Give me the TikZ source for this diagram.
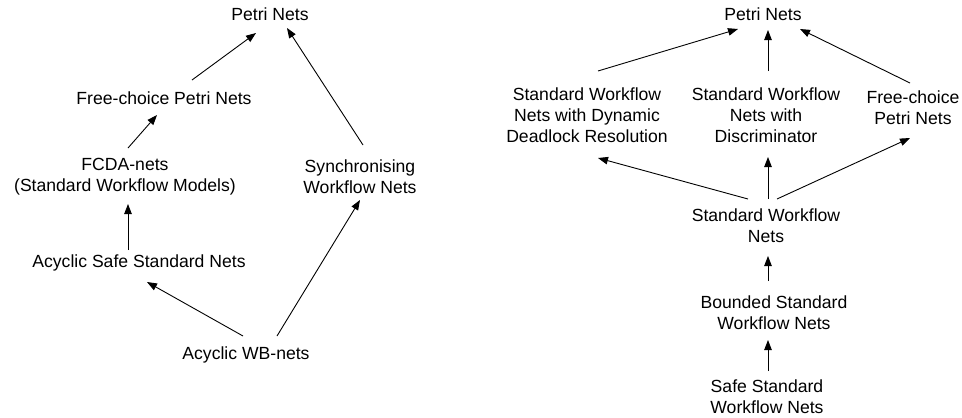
\documentclass[tikz,border=0pt]{standalone}
\usepackage{fontspec}
\setmainfont{Liberation Sans}
\usetikzlibrary{arrows.meta,calc}
\begin{document}
\begin{tikzpicture}[x=1pt,y=-1pt,
  lbl/.style={inner sep=0pt,align=center,font=\fontsize{17.6}{21}\selectfont},
  arr/.style={line width=0.9pt,-{Triangle[length=10pt,width=7.5pt]}}]
\useasboundingbox (0,0) rectangle (962,418);
% left diagram
\node[lbl] (pn1) at (270,14) {Petri Nets};
\node[lbl] (fcp) at (164,98) {Free-choice Petri Nets};
\node[lbl] (fcda) at (125,177) {FCDA-nets\\(Standard Workflow Models)};
\node[lbl] (sync) at (360,177) {Synchronising\\Workflow Nets};
\node[lbl] (assn) at (139,263) {Acyclic Safe Standard Nets};
\node[lbl] (awb) at (246,355) {Acyclic WB-nets};
\draw[arr] ($(fcp)+(28,-18)$) -- ($(pn1)+(-14,19)$);
\draw[arr] ($(fcda)+(3,-29)$) -- ($(fcp)+(-7,17)$);
\draw[arr] ($(assn)+(-11,-13)$) -- ($(fcda)+(3,27)$);
\draw[arr] ($(sync)+(3,-32)$) -- ($(pn1)+(17,14)$);
\draw[arr] ($(awb)+(-3,-19)$) -- ($(assn)+(8,19)$);
\draw[arr] ($(awb)+(31,-19)$) -- ($(sync)+(0,23)$);
% right diagram
\node[lbl] (pn2) at (763,14) {Petri Nets};
\node[lbl] (dyn) at (587,115) {Standard Workflow\\Nets with Dynamic\\Deadlock Resolution};
\node[lbl] (disc) at (766,115) {Standard Workflow\\Nets with\\Discriminator};
\node[lbl] (fc2) at (913,108) {Free-choice\\Petri Nets};
\node[lbl] (swn) at (766,226) {Standard Workflow\\Nets};
\node[lbl] (bswn) at (774,313) {Bounded Standard\\Workflow Nets};
\node[lbl] (sswn) at (767,397) {Safe Standard\\Workflow Nets};
\draw[arr] ($(dyn)+(11,-44)$) -- ($(pn2)+(-25,15)$);
\draw[arr] ($(disc)+(2,-44)$) -- ($(pn2)+(5,16)$);
\draw[arr] ($(fc2)+(-3,-25)$) -- ($(pn2)+(37,15)$);
\draw[arr] ($(swn)+(-18,-27)$) -- ($(dyn)+(11,43)$);
\draw[arr] ($(swn)+(2,-27)$) -- ($(disc)+(2,42)$);
\draw[arr] ($(swn)+(11,-27)$) -- ($(fc2)+(-3,30)$);
\draw[arr] ($(bswn)+(-6,-32)$) -- ($(swn)+(2,30)$);
\draw[arr] ($(sswn)+(1,-26)$) -- ($(bswn)+(-6,27)$);
\end{tikzpicture}
\end{document}
